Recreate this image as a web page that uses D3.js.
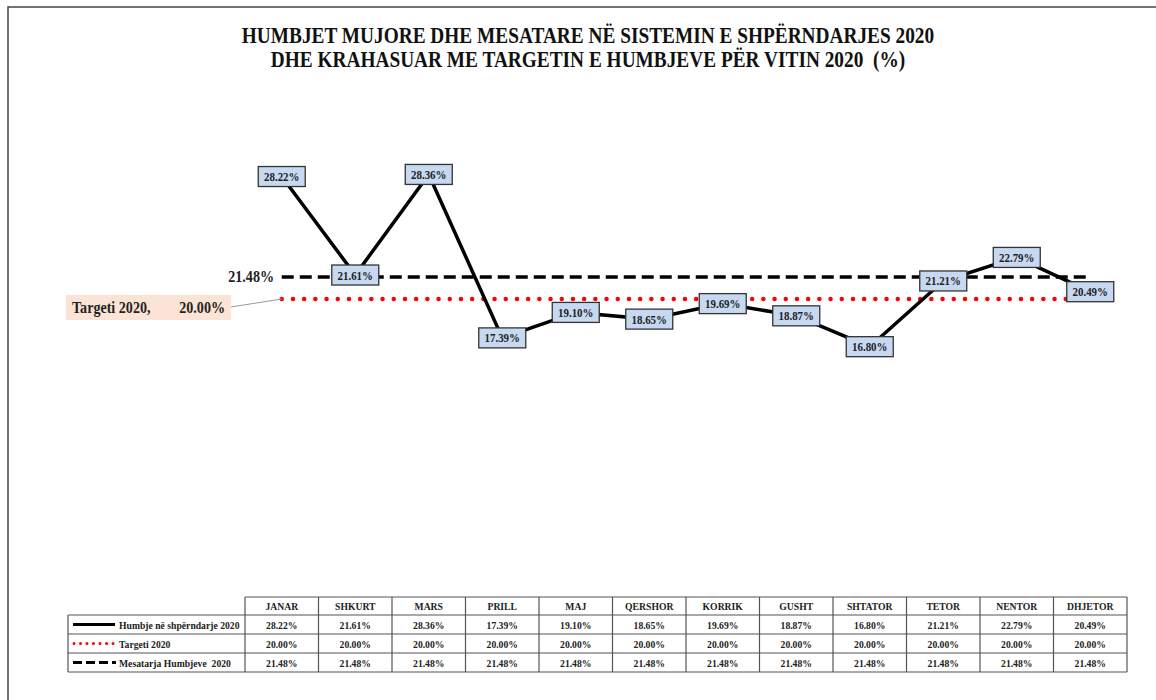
<!DOCTYPE html>
<html>
<head>
<meta charset="utf-8">
<script src="https://cdn.jsdelivr.net/npm/d3@7"></script>
<style>
  body { margin: 0; background: #fff; }
  svg { display: block; font-family: "Liberation Serif", "Times New Roman", serif; }
</style>
</head>
<body>
<div class="container"></div>
<script>
const months = ['JANAR', 'SHKURT', 'MARS', 'PRILL', 'MAJ', 'QERSHOR', 'KORRIK', 'GUSHT', 'SHTATOR', 'TETOR', 'NENTOR', 'DHJETOR'];
const losses = [28.22, 21.61, 28.36, 17.39, 19.10, 18.65, 19.69, 18.87, 16.80, 21.21, 22.79, 20.49];
const target = [20.00, 20.00, 20.00, 20.00, 20.00, 20.00, 20.00, 20.00, 20.00, 20.00, 20.00, 20.00];
const average = [21.48, 21.48, 21.48, 21.48, 21.48, 21.48, 21.48, 21.48, 21.48, 21.48, 21.48, 21.48];
const seriesNames = ['Humbje në shpërndarje 2020', 'Targeti 2020', 'Mesatarja Humbjeve  2020'];
const titleLines = ['HUMBJET MUJORE DHE MESATARE NË SISTEMIN E SHPËRNDARJES 2020', 'DHE KRAHASUAR ME TARGETIN E HUMBJEVE PËR VITIN 2020  (%)'];

const width = 1156;
const height = 700;

const table = { left: 68, colStart: 245, right: 1127, top: 597, rowH: [18, 19, 19, 19] };

const xScale = d3.scaleBand()
  .domain(months)
  .range([table.colStart, table.right]);

const cx = m => xScale(m) + xScale.bandwidth() / 2;

const yScale = d3.scaleLinear()
  .domain([0, 30])
  .range([table.top, 150]);

const fmt = v => v.toFixed(2) + '%';

// squeeze text horizontally like the narrow Times rendering of the original
const condense = (sel, k) => sel.each(function () {
  const len = this.getComputedTextLength();
  d3.select(this).attr('textLength', len * k).attr('lengthAdjust', 'spacingAndGlyphs');
});

const svg = d3.select('.container')
  .append('svg')
  .attr('width', width)
  .attr('height', height);

// frame
svg.append('path')
  .attr('d', `M8,${height} L8,7 L${width},7`)
  .attr('fill', 'none')
  .attr('stroke', '#444')
  .attr('stroke-width', 1.5);

// title
svg.append('g')
  .selectAll('text')
  .data(titleLines)
  .enter()
  .append('text')
  .attr('x', 588)
  .attr('y', (d, i) => 43 + i * 24)
  .attr('text-anchor', 'middle')
  .attr('font-size', 23)
  .attr('font-weight', 'bold')
  .attr('fill', '#111')
  .style('white-space', 'pre')
  .text(d => d)
  .call(condense, 0.84);

const line = d3.line()
  .x((d, i) => cx(months[i]))
  .y(d => yScale(d));

// average dashed
svg.append('path')
  .attr('d', line(average))
  .attr('fill', 'none')
  .attr('stroke', '#000')
  .attr('stroke-width', 3.5)
  .attr('stroke-dasharray', '12 6');

// target dotted
svg.append('path')
  .attr('d', line(target))
  .attr('fill', 'none')
  .attr('stroke', '#ff0000')
  .attr('stroke-width', 4.5)
  .attr('stroke-linecap', 'round')
  .attr('stroke-dasharray', '0 11.2');

// losses
svg.append('path')
  .attr('d', line(losses))
  .attr('fill', 'none')
  .attr('stroke', '#000')
  .attr('stroke-width', 3.5);

// average label
svg.append('text')
  .attr('x', 274)
  .attr('y', yScale(average[0]) + 5.5)
  .attr('text-anchor', 'end')
  .attr('font-size', 16)
  .attr('font-weight', 'bold')
  .attr('fill', '#222')
  .text(fmt(average[0]))
  .call(condense, 0.88);

// target callout
const ty = yScale(target[0]);
svg.append('line')
  .attr('x1', 231).attr('y1', ty + 8)
  .attr('x2', cx(months[0])).attr('y2', ty)
  .attr('stroke', '#999')
  .attr('stroke-width', 1);
svg.append('rect')
  .attr('x', 66).attr('y', ty - 4)
  .attr('width', 165).attr('height', 25)
  .attr('fill', '#fbe4d5');
svg.append('text')
  .attr('x', 72).attr('y', ty + 13.5)
  .attr('font-size', 16)
  .attr('font-weight', 'bold')
  .attr('fill', '#222')
  .text('Targeti 2020,')
  .call(condense, 0.88);
svg.append('text')
  .attr('x', 225).attr('y', ty + 13.5)
  .attr('text-anchor', 'end')
  .attr('font-size', 16)
  .attr('font-weight', 'bold')
  .attr('fill', '#222')
  .text(fmt(target[0]))
  .call(condense, 0.88);

// data labels
const labels = svg.append('g')
  .selectAll('g')
  .data(losses)
  .enter()
  .append('g')
  .attr('transform', (d, i) => `translate(${cx(months[i])}, ${yScale(d)})`);
labels.append('rect')
  .attr('x', -23.5).attr('y', -10)
  .attr('width', 47).attr('height', 20)
  .attr('fill', '#c6d9f1')
  .attr('stroke', '#333')
  .attr('stroke-width', 1.3);
labels.append('text')
  .attr('text-anchor', 'middle')
  .attr('y', 4.5)
  .attr('font-size', 13)
  .attr('font-weight', 'bold')
  .attr('fill', '#222')
  .text(d => fmt(d))
  .call(condense, 0.84);

// data table
const rowsY = [table.top];
table.rowH.forEach(h => rowsY.push(rowsY[rowsY.length - 1] + h));
const tg = svg.append('g').attr('stroke', '#555').attr('stroke-width', 1.2);

rowsY.forEach((y, i) => {
  tg.append('line')
    .attr('x1', i === 0 ? table.colStart : table.left)
    .attr('x2', table.right)
    .attr('y1', y).attr('y2', y);
});
tg.append('line')
  .attr('x1', table.left).attr('x2', table.left)
  .attr('y1', rowsY[1]).attr('y2', rowsY[4]);
months.forEach(m => {
  tg.append('line')
    .attr('x1', xScale(m)).attr('x2', xScale(m))
    .attr('y1', rowsY[0]).attr('y2', rowsY[4]);
});
tg.append('line')
  .attr('x1', table.right).attr('x2', table.right)
  .attr('y1', rowsY[0]).attr('y2', rowsY[4]);

const cellText = (x, y, t, anchor) => svg.append('text')
  .attr('x', x).attr('y', y)
  .attr('text-anchor', anchor || 'middle')
  .attr('font-size', 10.5)
  .attr('font-weight', 'bold')
  .attr('fill', '#222')
  .style('white-space', 'pre')
  .text(t)
  .call(condense, 0.92);

months.forEach(m => cellText(cx(m), rowsY[0] + 13, m));

const rows = [losses, target, average];
rows.forEach((vals, r) => {
  const yMid = (rowsY[r + 1] + rowsY[r + 2]) / 2;
  vals.forEach((v, i) => cellText(cx(months[i]), yMid + 4, fmt(v)));
  cellText(119, yMid + 4, seriesNames[r], 'start');
});

// legend keys
const keyY = r => (rowsY[r + 1] + rowsY[r + 2]) / 2;
svg.append('line')
  .attr('x1', 73).attr('x2', 115)
  .attr('y1', keyY(0)).attr('y2', keyY(0))
  .attr('stroke', '#000').attr('stroke-width', 3);
svg.append('line')
  .attr('x1', 74).attr('x2', 116)
  .attr('y1', keyY(1)).attr('y2', keyY(1))
  .attr('stroke', '#ff0000').attr('stroke-width', 3)
  .attr('stroke-linecap', 'round')
  .attr('stroke-dasharray', '0 6.5');
svg.append('line')
  .attr('x1', 73).attr('x2', 116)
  .attr('y1', keyY(2)).attr('y2', keyY(2))
  .attr('stroke', '#000').attr('stroke-width', 3)
  .attr('stroke-dasharray', '9 4');
</script>
</body>
</html>
